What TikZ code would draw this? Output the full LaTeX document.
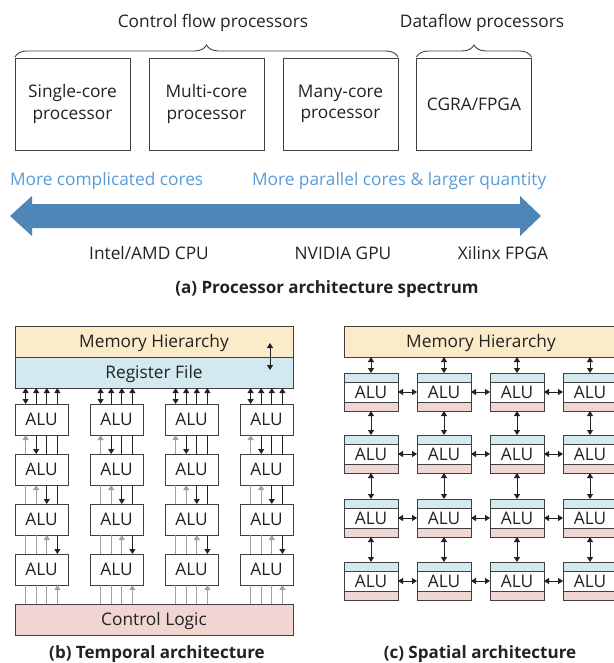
\documentclass[tikz,border=0pt]{standalone}
\usepackage{fontspec}
\setmainfont{Open Sans}
\usetikzlibrary{arrows.meta,calc,decorations.pathreplacing,positioning}

\definecolor{memfill}{HTML}{FCEBC9}
\definecolor{regfill}{HTML}{D2E9EF}
\definecolor{ctlfill}{HTML}{F1D5D3}
\definecolor{spanblue}{HTML}{4F86B8}
\definecolor{labblue}{HTML}{5B9BD5}
\definecolor{wiregray}{HTML}{A0A0A0}
\definecolor{edge}{HTML}{404040}
\definecolor{ink}{HTML}{222222}

\begin{document}
\begin{tikzpicture}[x=1pt,y=-1pt,
  every node/.style={inner sep=0pt, outer sep=0pt, text=ink},
  txt/.style={font=\fontsize{17.3}{20}\selectfont},
  boxtxt/.style={txt, text height=15.6pt, text depth=3.25pt},
  captxt/.style={font=\bfseries\fontsize{17}{20}\selectfont},
  procbox/.style={draw=edge, line width=0.9pt, minimum width=115pt, minimum height=92pt,
    align=center, font=\fontsize{17.3}{21.5}\selectfont},
  bracedeco/.style={draw=edge, line width=0.9pt, decorate,
    decoration={brace, amplitude=12pt}},
  wide/.style={draw=edge, line width=0.9pt, minimum height=31pt, boxtxt},
  alub/.style={draw=edge, line width=0.9pt, fill=white, minimum width=53pt,
    minimum height=31pt, boxtxt},
  aluc/.style={draw=edge, line width=0.9pt, fill=white, minimum width=54pt,
    minimum height=20pt, boxtxt},
  stripe/.style={draw=edge, line width=0.9pt, minimum width=54pt, minimum height=9pt},
  bw/.style={draw=ink, line width=0.9pt},
  bu/.style={bw, {Triangle[length=5pt,width=6pt]}-},
  bd/.style={bw, -{Triangle[length=5pt,width=6pt]}},
  bb/.style={bw, {Triangle[length=5pt,width=6pt]}-{Triangle[length=5pt,width=6pt]}},
  gw/.style={draw=wiregray, line width=0.9pt},
  gu/.style={gw, {Triangle[length=5pt,width=6pt]}-},
]
\useasboundingbox (0,0) rectangle (613,663);

% ---------------- (a) processor architecture spectrum ----------------
\node[procbox] (p1) at (72.5,104) {Single-core\\processor};
\node[procbox] (p2) at (206.5,104) {Multi-core\\processor};
\node[procbox] (p3) at (340.5,104) {Many-core\\processor};
\node[procbox] (p4) at (474,104) {CGRA/FPGA};

\draw[bracedeco] ([yshift=1pt]p1.north west) -- ([yshift=1pt]p3.north east);
\draw[bracedeco] ([yshift=1pt]p4.north west) -- ([yshift=1pt]p4.north east);
\node[txt] (cf) at (213,23) {Control flow processors};
\node[txt] (df) at (482,23) {Dataflow processors};

\node[txt, text=labblue, anchor=west] (lc) at (10,181) {More complicated cores};
\node[txt, text=labblue, anchor=west] (lp) at (252,181) {More parallel cores \& larger quantity};

% spectrum arrow
\fill[spanblue] (10,216) -- (32,196) -- (32,204) -- (520,204) -- (520,196) -- (541,216)
  -- (520,236) -- (520,228) -- (32,228) -- (32,236) -- cycle;

\node[txt] (cpu) at (149,253) {Intel/AMD CPU};
\node[txt] (gpu) at (343,253) {NVIDIA GPU};
\node[txt] (fpga) at (503,253) {Xilinx FPGA};
\node[captxt] (capa) at (327,289) {(a) Processor architecture spectrum};

% ---------------- (b) temporal architecture ----------------
\node[wide, fill=memfill, minimum width=278pt] (mh) at (154,341.5) {Memory Hierarchy};
\node[wide, fill=regfill, minimum width=278pt] (rf) at (154,372.5) {Register File};
\coordinate (rfx) at (270,0);
\draw[bb] ([yshift=-1.5pt]rfx |- mh.center) -- ([yshift=2.5pt]rfx |- rf.center);

\foreach \c/\x in {1/41.5,2/116.5,3/191.5,4/266.5}{
  \foreach \r/\y in {1/419.5,2/469.5,3/519.5,4/569.5}{
    \node[alub] (a\c-\r) at (\x,\y) {ALU};
  }
}
\node[wide, fill=ctlfill, minimum width=278pt] (cl) at (154,619.5) {Control Logic};

% vertical wires between register file, ALUs and control logic
\foreach \c in {1,...,4}{
  \foreach \s/\k/\st in {0/1/bb,0/2/bu,0/3/bu,0/4/bu,
                         1/1/gu,1/2/bd,1/3/bw,1/4/bw,
                         2/1/gw,2/2/gu,2/3/bd,2/4/bw,
                         3/1/gw,3/2/gw,3/3/gu,3/4/bd,
                         4/1/gw,4/2/gw,4/3/gw,4/4/gu}{
    \pgfmathtruncatemacro\rr{\s+1}
    \pgfmathsetmacro\f{0.2*\k}
    \ifnum\s=0 \def\up{rf}\else \def\up{a\c-\s}\fi
    \ifnum\s=4 \def\lo{cl}\else \def\lo{a\c-\rr}\fi
    \path ($(a\c-1.south west)!\f!(a\c-1.south east)$) coordinate (w);
    \draw[\st] (w |- \up.south) -- (w |- \lo.north);
  }
}
\node[captxt] (capb) at (157,654) {(b) Temporal architecture};

% ---------------- (c) spatial architecture ----------------
\node[wide, fill=memfill, minimum width=274pt] (mhc) at (481,341.5) {Memory Hierarchy};

\foreach \c/\x in {1/371,2/444,3/517,4/590}{
  \foreach \r/\y in {1/392,2/454,3/518,4/581}{
    \node[aluc] (s\c-\r) at (\x,\y) {ALU};
    \node[stripe, fill=regfill, above=0pt of s\c-\r] (t\c-\r) {};
    \node[stripe, fill=ctlfill, below=0pt of s\c-\r] (b\c-\r) {};
  }
}
\foreach \c in {1,...,4}{
  \draw[bb] (t\c-1.north |- mhc.south) -- (t\c-1.north);
  \foreach \r/\n in {1/2,2/3,3/4}{
    \draw[bb] (b\c-\r.south) -- (t\c-\n.north);
  }
}
\foreach \r in {1,...,4}{
  \foreach \c/\n in {1/2,2/3,3/4}{
    \draw[bb] (s\c-\r.east) -- (s\n-\r.west);
  }
}
\node[captxt] (capc) at (480,654) {(c) Spatial architecture};
\end{tikzpicture}
\end{document}
